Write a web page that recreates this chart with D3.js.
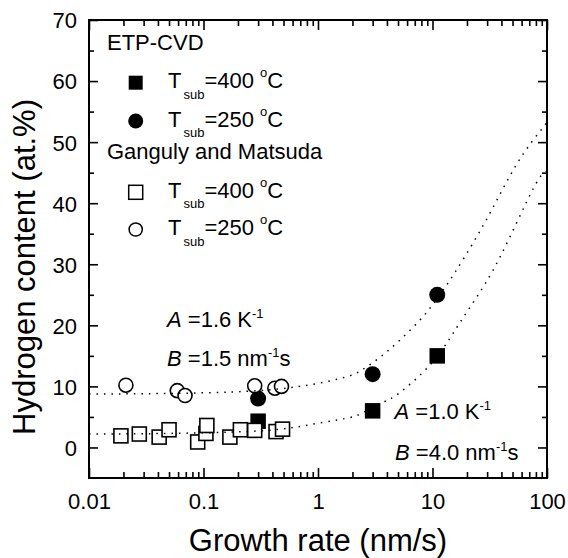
<!DOCTYPE html>
<html><head><meta charset="utf-8">
<script src="https://cdn.jsdelivr.net/npm/d3@7"></script>
<style>
html,body{margin:0;padding:0;background:#fff;}
svg{display:block;font-family:"Liberation Sans",Arial,sans-serif;}
</style></head>
<body><svg id="c" width="568" height="558"></svg>
<script>
// ---- data ----
const xTickValues = [0.01, 0.1, 1, 10, 100];
const xTickLabels = ["0.01", "0.1", "1", "10", "100"];
const yTickValues = [0, 10, 20, 30, 40, 50, 60, 70];
const yTickLabels = ["0", "10", "20", "30", "40", "50", "60", "70"];

const etp400X = [0.3, 3.0, 11];
const etp400Y = [4.3, 6.0, 15.0];
const etp250X = [0.3, 3.0, 11];
const etp250Y = [8.0, 12.0, 25.0];

const gm400X = [0.019, 0.0275, 0.041, 0.050, 0.089, 0.105, 0.107, 0.170, 0.210, 0.28, 0.43, 0.49];
const gm400Y = [1.9, 2.2, 1.7, 2.9, 0.9, 2.3, 3.6, 1.7, 2.9, 2.8, 2.6, 3.0];
const gm250X = [0.021, 0.059, 0.069, 0.28, 0.42, 0.48];
const gm250Y = [10.2, 9.3, 8.5, 10.1, 9.7, 10.0];

const fitUpperX = [0.01, 0.03, 0.1, 0.3, 0.6, 1.1, 1.9, 2.5, 3.5, 5.2, 7.8, 9.5, 13.3, 27.8, 54, 100];
const fitUpperY = [8.75, 8.8, 8.95, 9.3, 9.85, 10.65, 11.75, 12.85, 14.8, 17.6, 20.9, 22.8, 26.6, 36.4, 46.3, 53.2];
const fitLowerX = [0.01, 0.03, 0.1, 0.3, 0.6, 1.1, 1.9, 2.5, 3.7, 5.2, 9.5, 14.2, 18, 23.5, 38.9, 75.9, 100];
const fitLowerY = [2.2, 2.25, 2.4, 2.7, 3.25, 4.1, 4.9, 5.75, 7.4, 9.0, 13.5, 17.9, 20.9, 24.2, 31.2, 42.4, 45.2];

const legendGroups = ["ETP-CVD", "Ganguly and Matsuda"];
const legendTemps = ["400", "250", "400", "250"];
const xTitle = "Growth rate (nm/s)";
const yTitle = "Hydrogen content (at.%)";

// ---- drawing ----
const svg = d3.select("#c");
const L = 89, R = 547, T = 20, B = 478;
const x = d3.scaleLog().domain([0.01, 100]).range([L, R]);
const y = d3.scaleLinear().domain([-5, 70]).range([B, T]);

const minorX = [];
[0.01, 0.1, 1, 10].forEach(d => { for (let k = 2; k <= 9; k++) minorX.push(d * k); });
const minorY = [5, 15, 25, 35, 45, 55, 65];

function styleAxis(g) {
  g.select(".domain").remove();
  g.selectAll("line").attr("stroke", "#000").attr("stroke-width", 1.6);
  g.selectAll("text").attr("fill", "#000").style("font-size", "22px")
    .style("font-family", "'Liberation Sans', Arial, sans-serif");
}

// bottom
svg.append("g").attr("transform", `translate(0,${B})`)
  .call(d3.axisBottom(x).tickValues(xTickValues).tickFormat((d, i) => xTickLabels[i]).tickSizeInner(-10).tickSizeOuter(0).tickPadding(15))
  .call(styleAxis);
svg.append("g").attr("transform", `translate(0,${B})`)
  .call(d3.axisBottom(x).tickValues(minorX).tickFormat("").tickSizeInner(-6).tickSizeOuter(0))
  .call(styleAxis);
// top
svg.append("g").attr("transform", `translate(0,${T})`)
  .call(d3.axisTop(x).tickValues(xTickValues).tickFormat("").tickSizeInner(-10).tickSizeOuter(0))
  .call(styleAxis);
svg.append("g").attr("transform", `translate(0,${T})`)
  .call(d3.axisTop(x).tickValues(minorX).tickFormat("").tickSizeInner(-6).tickSizeOuter(0))
  .call(styleAxis);
// left
svg.append("g").attr("transform", `translate(${L},0)`)
  .call(d3.axisLeft(y).tickValues(yTickValues).tickFormat((d, i) => yTickLabels[i]).tickSizeInner(-9).tickSizeOuter(0).tickPadding(12))
  .call(styleAxis)
  .call(g => g.selectAll("text").attr("dy", "0.36em"));
svg.append("g").attr("transform", `translate(${L},0)`)
  .call(d3.axisLeft(y).tickValues(minorY).tickFormat("").tickSizeInner(-5).tickSizeOuter(0))
  .call(styleAxis);
// right
svg.append("g").attr("transform", `translate(${R},0)`)
  .call(d3.axisRight(y).tickValues(yTickValues).tickFormat("").tickSizeInner(-9).tickSizeOuter(0))
  .call(styleAxis);
svg.append("g").attr("transform", `translate(${R},0)`)
  .call(d3.axisRight(y).tickValues(minorY).tickFormat("").tickSizeInner(-5).tickSizeOuter(0))
  .call(styleAxis);

// frame
svg.append("rect").attr("x", L).attr("y", T).attr("width", R - L).attr("height", B - T)
  .attr("fill", "none").attr("stroke", "#000").attr("stroke-width", 2);

// axis titles
svg.append("text").attr("x", (L + R) / 2).attr("y", 551).attr("text-anchor", "middle")
  .style("font-size", "31px").text(xTitle);
svg.append("text").attr("transform", "translate(35,267) rotate(-90)").attr("text-anchor", "middle")
  .style("font-size", "31px").text(yTitle);

const plot = svg.append("g");
const sq = 15.5, sqO = 14, rF = 8, rO = 7;

function squares(xs, ys, filled, s) {
  plot.selectAll(null).data(xs.map((d, i) => [d, ys[i]])).enter().append("rect")
    .attr("x", d => x(d[0]) - s / 2).attr("y", d => y(d[1]) - s / 2)
    .attr("width", s).attr("height", s)
    .attr("fill", filled ? "#000" : "#fff").attr("stroke", "#000").attr("stroke-width", filled ? 0 : 1.6);
}
function circles(xs, ys, filled, r) {
  plot.selectAll(null).data(xs.map((d, i) => [d, ys[i]])).enter().append("circle")
    .attr("cx", d => x(d[0])).attr("cy", d => y(d[1])).attr("r", r)
    .attr("fill", filled ? "#000" : "#fff").attr("stroke", "#000").attr("stroke-width", filled ? 0 : 1.6);
}
squares(etp400X, etp400Y, true, sq);
circles(etp250X, etp250Y, true, rF);
squares(gm400X, gm400Y, false, sqO);
circles(gm250X, gm250Y, false, rO);

const line = d3.line().x(d => x(d[0])).y(d => y(d[1])).curve(d3.curveNatural);
[[fitUpperX, fitUpperY], [fitLowerX, fitLowerY]].forEach(([xs, ys]) => {
  plot.append("path").datum(xs.map((d, i) => [d, ys[i]])).attr("d", line)
    .attr("fill", "none").attr("stroke", "#000").attr("stroke-width", 1.5)
    .attr("stroke-dasharray", "1.5,6");
});

// legend
const lg = svg.append("g").style("font-size", "22px");
lg.append("text").attr("x", 107).attr("y", 49.5).text(legendGroups[0]);
lg.append("text").attr("x", 107).attr("y", 158.5).text(legendGroups[1]);
const rowsY = [82.7, 121, 192.3, 229.5];
const symX = 135.7;
rowsY.forEach((cy, i) => {
  const filled = i < 2;
  const isSq = i % 2 === 0;
  if (isSq) {
    lg.append("rect").attr("x", symX - 7).attr("y", cy - 7).attr("width", 14).attr("height", 14)
      .attr("fill", filled ? "#000" : "#fff").attr("stroke", "#000").attr("stroke-width", filled ? 0 : 1.5);
  } else {
    lg.append("circle").attr("cx", symX).attr("cy", cy).attr("r", filled ? 7.5 : 6.6)
      .attr("fill", filled ? "#000" : "#fff").attr("stroke", "#000").attr("stroke-width", filled ? 0 : 1.5);
  }
  const t = lg.append("text").attr("x", 168).attr("y", cy + 5.6);
  t.append("tspan").text("T");
  t.append("tspan").attr("dx", 2).attr("dy", 10.5).style("font-size", "13px").text("sub");
  t.append("tspan").attr("dy", -10.5).text("=" + legendTemps[i] + " ");
  t.append("tspan").attr("dy", -11).style("font-size", "13px").text("o");
  t.append("tspan").attr("dy", 11).text("C");
});

// annotations
function paramText(px, py, letter, value, unit, tail) {
  const t = svg.append("text").attr("x", px).attr("y", py).style("font-size", "22px");
  t.append("tspan").style("font-style", "italic").text(letter);
  t.append("tspan").text(" =" + value + " " + unit);
  t.append("tspan").attr("dy", -9).style("font-size", "13px").text("-1");
  t.append("tspan").attr("dy", 9).text(tail);
}
paramText(167, 326.7, "A", "1.6", "K", "");
paramText(167, 366, "B", "1.5", "nm", "s");
paramText(394.5, 419.3, "A", "1.0", "K", "");
paramText(395, 460, "B", "4.0", "nm", "s");
</script></body></html>
